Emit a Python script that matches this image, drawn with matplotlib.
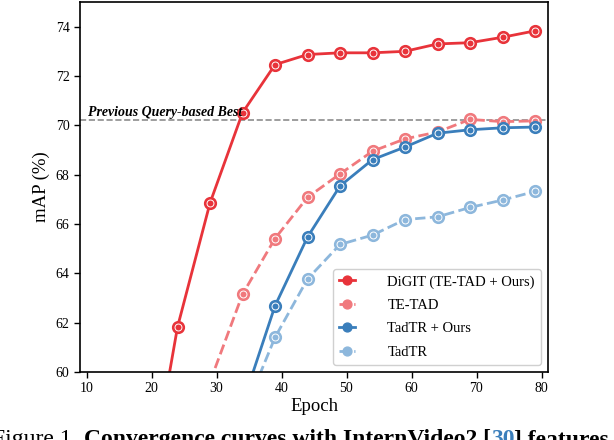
import matplotlib
matplotlib.use("Agg")
import matplotlib.pyplot as plt
from matplotlib.legend_handler import HandlerTuple

plt.rcParams['font.family'] = ['Liberation Serif', 'DejaVu Serif']

# data
ep_digit = [19, 24, 29, 34, 39, 44, 49, 54, 59, 64, 69, 74, 79]
digit = [54.3, 61.82, 66.85, 70.51, 72.46, 72.87, 72.94, 72.94, 73.0, 73.3, 73.35, 73.57, 73.83]

ep_tetad = [29, 34, 39, 44, 49, 54, 59, 64, 69, 74, 79]
tetad = [59.6, 63.15, 65.41, 67.08, 68.03, 68.95, 69.45, 69.73, 70.24, 70.15, 70.18]

ep_tadtr = [34, 39, 44, 49, 54, 59, 64, 69, 74, 79]
tadtr_ours = [58.7, 62.68, 65.47, 67.54, 68.61, 69.12, 69.68, 69.82, 69.9, 69.93]
tadtr = [58.2, 61.4, 63.77, 65.17, 65.55, 66.18, 66.29, 66.67, 66.97, 67.32]

prev_best = 70.22

series = [
    (ep_digit, digit, '#e8333a', '-', 'DiGIT (TE-TAD + Ours)'),
    (ep_tetad, tetad, '#f0797d', '--', 'TE-TAD'),
    (ep_tadtr, tadtr_ours, '#3a7ebb', '-', 'TadTR + Ours'),
    (ep_tadtr, tadtr, '#8db7dc', '--', 'TadTR'),
]

fig = plt.figure(figsize=(6.14, 4.40), dpi=100)
ax = fig.add_axes([80/614, 68/440, 468/614, 370/440])

handles = []
labels = []
for x, y, c, ls, name in series:
    l1, = ax.plot(x, y, color=c, linestyle=ls, linewidth=2.0,
                  marker='o', markersize=8.5, markerfacecolor=c, markeredgecolor=c)
    l2, = ax.plot(x, y, linestyle='none', marker='o', markersize=5,
                  markerfacecolor='none', markeredgecolor='white', markeredgewidth=0.7)
    handles.append((l1, l2))
    labels.append(name)

ax.axhline(prev_best, color='#8c8c8c', linestyle='--', linewidth=1.2, zorder=1)
ax.text(10.2, prev_best + 0.17, 'Previous Query-based Best', fontsize=10,
        fontweight='bold', fontstyle='italic', va='baseline', ha='left')

ax.set_xlim(9, 81)
ax.set_ylim(60, 75)
ax.set_xticks([10, 20, 30, 40, 50, 60, 70, 80])
ax.set_yticks([60, 62, 64, 66, 68, 70, 72, 74])
ax.tick_params(labelsize=10, length=4, width=1)
for s in ax.spines.values():
    s.set_linewidth(1.2)
ax.set_xlabel('Epoch', fontsize=13.5, labelpad=2)
ax.set_ylabel('mAP (%)', fontsize=13.5, labelpad=4)

leg = ax.legend(handles, labels, handler_map={tuple: HandlerTuple(ndivide=None)},
                loc='lower right', fontsize=10.5, handlelength=2.5, handletextpad=0.8,
                markerscale=0.75, framealpha=1, edgecolor='#d0d0d0', fancybox=True,
                borderpad=0.4, labelspacing=0.7)

# caption of the paper figure, cut off at the bottom edge
base_y = 1 - 445/440
fig.text(77/614, base_y, 'Figure 1.', fontsize=17, ha='right', va='baseline')
t1 = fig.text(84/614, base_y, 'Convergence curves with InternVideo2 [', fontsize=17,
              fontweight='bold', ha='left', va='baseline')
fig.canvas.draw()
r = fig.canvas.get_renderer()
bb = t1.get_window_extent(r)
t2 = fig.text(bb.x1 / fig.bbox.width, base_y, '30', fontsize=17, fontweight='bold',
              color='#3a7ebb', ha='left', va='baseline')
fig.canvas.draw()
bb2 = t2.get_window_extent(r)
fig.text(bb2.x1 / fig.bbox.width, base_y, '] features', fontsize=17,
         fontweight='bold', ha='left', va='baseline')

fig.savefig('out.png', dpi=100)
